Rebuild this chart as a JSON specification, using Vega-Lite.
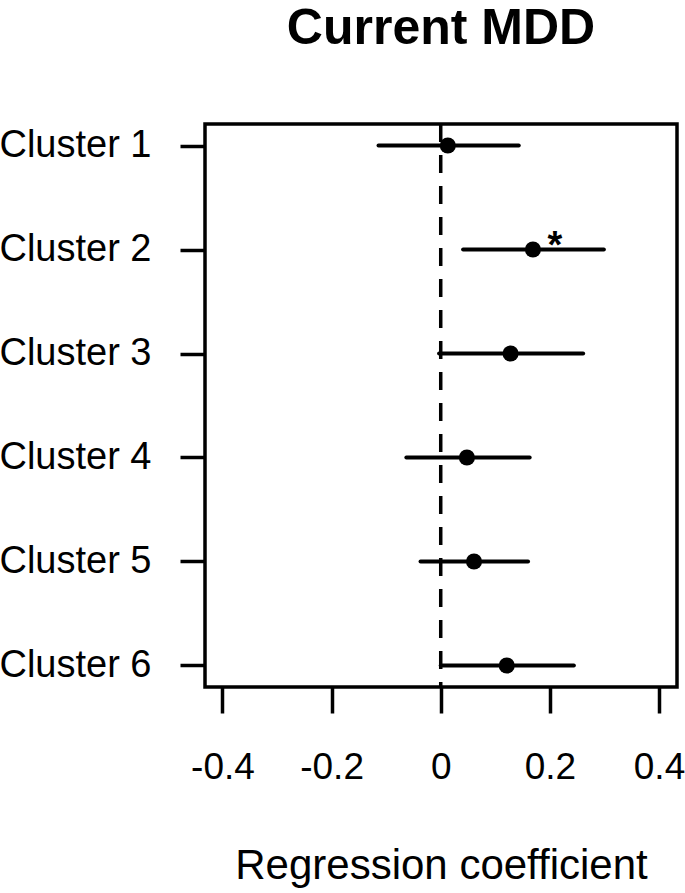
{
  "$schema": "https://vega.github.io/schema/vega-lite/v6.json",
  "autosize": "none",
  "width": 472,
  "height": 563,
  "padding": {"left": 205, "top": 124, "right": 8, "bottom": 206},
  "background": "white",
  "config": {"view": {"stroke": "black", "strokeWidth": 3.5}, "font": "Liberation Sans"},
  "title": {"text": "Current MDD", "fontSize": 50, "fontWeight": "bold", "font": "Liberation Sans", "color": "black", "anchor": "middle", "frame": "group", "baseline": "alphabetic", "offset": 28},
  "data": {"values": [
    {"cluster": "Cluster 1", "est": 0.013, "lo": -0.114, "hi": 0.143, "sig": ""},
    {"cluster": "Cluster 2", "est": 0.169, "lo": 0.041, "hi": 0.299, "sig": "*"},
    {"cluster": "Cluster 3", "est": 0.128, "lo": -0.003, "hi": 0.261, "sig": ""},
    {"cluster": "Cluster 4", "est": 0.048, "lo": -0.063, "hi": 0.163, "sig": ""},
    {"cluster": "Cluster 5", "est": 0.061, "lo": -0.037, "hi": 0.160, "sig": ""},
    {"cluster": "Cluster 6", "est": 0.121, "lo": 0.0, "hi": 0.244, "sig": ""}
  ]},
  "layer": [
    {
      "data": {"values": [{"ref": 0}]},
      "mark": {"type": "rule", "strokeDash": [18, 13], "strokeWidth": 3.5, "color": "black"},
      "encoding": {
        "x": {"field": "ref", "type": "quantitative"}
      }
    },
    {
      "mark": {"type": "rule", "strokeWidth": 4, "color": "black", "strokeCap": "round"},
      "encoding": {
        "x": {
          "field": "lo", "type": "quantitative",
          "scale": {"domain": [-0.432, 0.433], "nice": false, "zero": false},
          "axis": {
            "values": [-0.4, -0.2, 0, 0.2, 0.4],
            "labelExpr": "datum.value == 0 ? '0' : (datum.value < 0 ? '-' + format(-datum.value, '.1f') : format(datum.value, '.1f'))",
            "domain": false, "grid": false,
            "tickSize": 26, "tickWidth": 3.5, "tickColor": "black",
            "labelFontSize": 37, "labelColor": "black", "labelPadding": 36, "labelFont": "Liberation Sans",
            "title": "Regression coefficient", "titleFontSize": 42, "titleFontWeight": "normal", "titleColor": "black", "titleFont": "Liberation Sans",
            "titleBaseline": "alphabetic", "titleY": 191, "titleX": 236
          }
        },
        "x2": {"field": "hi"},
        "y": {
          "field": "cluster", "type": "nominal", "sort": null,
          "scale": {"type": "point", "padding": 0.207},
          "axis": {
            "domain": false, "grid": false, "title": null,
            "tickSize": 25, "tickWidth": 3.5, "tickColor": "black",
            "labelFontSize": 38, "labelColor": "black", "labelPadding": 29, "labelFont": "Liberation Sans"
          }
        }
      }
    },
    {
      "mark": {"type": "circle", "size": 260, "color": "black", "opacity": 1},
      "encoding": {
        "x": {"field": "est", "type": "quantitative"},
        "y": {"field": "cluster", "type": "nominal", "sort": null}
      }
    },
    {
      "mark": {"type": "text", "fontSize": 38, "fontWeight": "bold", "font": "Liberation Sans", "dx": 22, "dy": 8, "baseline": "alphabetic", "align": "center", "color": "black"},
      "encoding": {
        "x": {"field": "est", "type": "quantitative"},
        "y": {"field": "cluster", "type": "nominal", "sort": null},
        "text": {"field": "sig"}
      }
    }
  ]
}
